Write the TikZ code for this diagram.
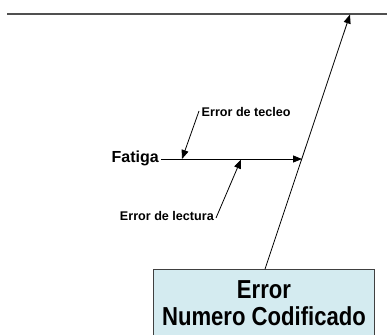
\documentclass[tikz,border=0pt]{standalone}
\usepackage{fontspec}
\setmainfont{Liberation Sans}
\usetikzlibrary{arrows.meta}
\definecolor{boxfill}{HTML}{D4EBF0}
\definecolor{boxline}{HTML}{404040}
\definecolor{spinecol}{HTML}{505050}
\tikzset{
  lbl/.style={inner sep=0pt, font=\bfseries\fontsize{12.6}{14}\selectfont},
  big/.style={inner sep=0pt, font=\bfseries\fontsize{16}{18}\selectfont},
  boxtxt/.style={inner sep=0pt, font=\bfseries\fontsize{26}{28}\selectfont},
  conn/.style={draw=black, line width=0.8pt},
  arr/.style={conn, -{Triangle[length=9pt,width=7pt]}},
  effbox/.style={draw=boxline, fill=boxfill, line width=0.8pt, minimum width=221pt, minimum height=80pt, inner sep=0pt, anchor=north west}
}
\begin{document}
\begin{tikzpicture}[x=1pt,y=-1pt]
\useasboundingbox (0,0) rectangle (387,334);
% spine
\coordinate (spineL) at (7,14);
\coordinate (spineR) at (387,14);
\coordinate (spineTip) at (350,14.5);
\draw[draw=spinecol, line width=1.3pt] (spineL) -- (spineR);
% effect box
\node[effbox] (box) at (153,269) {};
\coordinate (boxTop) at (265,269);
\node[boxtxt] (e1) at (264,290) {\scalebox{0.85}[1]{Error}};
\node[boxtxt] (e2) at (264,316) {\scalebox{0.85}[1]{Numero Codificado}};
\draw[arr] (boxTop) -- (spineTip);
% main cause
\node[big, anchor=east] (fatiga) at (159,158) {Fatiga};
\coordinate (fatigaTip) at (302,159);
\coordinate (fstart) at (161,159);
\draw[arr] (fstart) -- (fatigaTip);
% sub causes
\node[lbl, anchor=west] (tecleo) at (201.5,112) {Error de tecleo};
\coordinate (tecleoStart) at (199,111);
\coordinate (tecleoTip) at (182,159);
\draw[arr] (tecleoStart) -- (tecleoTip);
\node[lbl, anchor=east] (lectura) at (214,215.5) {Error de lectura};
\coordinate (lecturaStart) at (216,218);
\coordinate (lecturaTip) at (241,159.5);
\draw[arr] (lecturaStart) -- (lecturaTip);
\end{tikzpicture}
\end{document}
